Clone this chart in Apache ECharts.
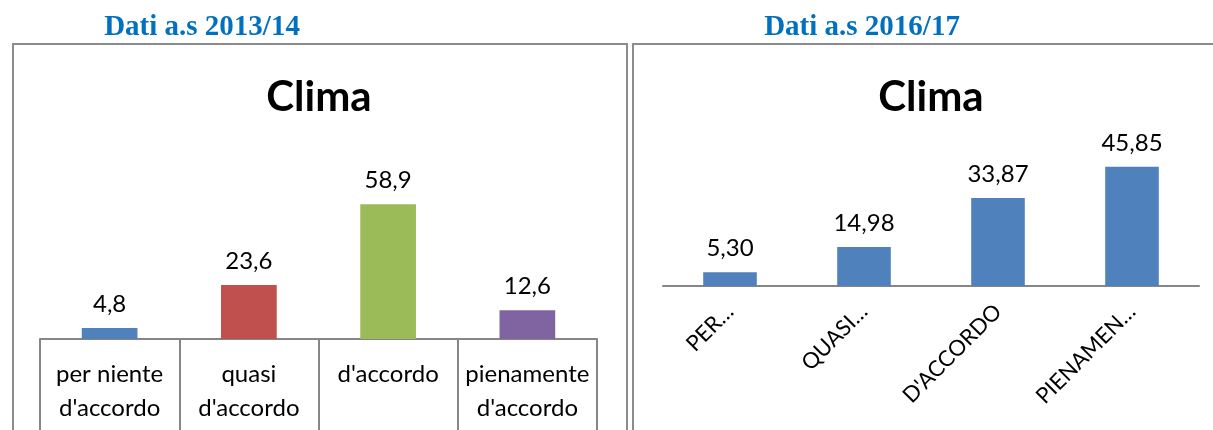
<!DOCTYPE html>
<html lang="it">
<head>
    <meta charset="UTF-8"/>
    <title>Clima</title>
    <script src="https://cdn.jsdelivr.net/npm/echarts@6/dist/echarts.min.js"></script>
    <style>
        html, body { margin: 0; padding: 0; background: #fff; }
    </style>
</head>
<body>
<div id="main" style="width: 1213px;height:430px;"></div>

<script type="text/javascript">
    // dati
    var categorie1 = ['per niente\nd\'accordo', 'quasi\nd\'accordo', 'd\'accordo', 'pienamente\nd\'accordo'];
    var valori1 = [4.8, 23.6, 58.9, 12.6];
    var colori1 = ['#4F81BD', '#C0504D', '#9BBB59', '#8064A2'];

    var categorie2 = ['PER…', 'QUASI…', 'D\'ACCORDO', 'PIENAMEN…'];
    var valori2 = [5.30, 14.98, 33.87, 45.85];

    var titolo1 = 'Dati a.s 2013/14';
    var titolo2 = 'Dati a.s 2016/17';
    var titoloGrafico = 'Clima';

    var myChart = echarts.init(document.getElementById('main'));

    var font = 'Lato, "Open Sans", sans-serif';

    function testo(t, x, y, f, colore) {
        return {
            type: 'text', x: x, y: y,
            style: {
                text: t, font: f, fill: colore,
                align: 'center', verticalAlign: 'middle',
                textAlign: 'center', textVerticalAlign: 'middle'
            }
        };
    }

    var option = {
        animation: false,
        graphic: [
            { type: 'rect', shape: { x: 13, y: 44, width: 614, height: 420 },
              style: { fill: 'none', stroke: '#8c8c8c', lineWidth: 2 } },
            { type: 'rect', shape: { x: 633, y: 44, width: 620, height: 420 },
              style: { fill: 'none', stroke: '#8c8c8c', lineWidth: 2 } },
            testo(titolo1, 202, 28, 'bold 29px "Liberation Serif", serif', '#0070C0'),
            testo(titolo2, 862, 28, 'bold 29px "Liberation Serif", serif', '#0070C0'),
            testo(titoloGrafico, 319, 97, 'bold 42px ' + font, '#000'),
            testo(titoloGrafico, 931, 97, 'bold 42px ' + font, '#000')
        ],
        grid: [
            { left: 40, right: 616, top: 179, bottom: 91 },
            { left: 663, right: 14, top: 156, bottom: 144 }
        ],
        xAxis: [
            {
                type: 'category', gridIndex: 0, data: categorie1,
                axisLine: { lineStyle: { color: '#868686', width: 2 } },
                axisTick: { show: true, length: 100, interval: 0, lineStyle: { color: '#868686', width: 2 } },
                axisLabel: { interval: 0, color: '#000', fontFamily: font, fontSize: 24, lineHeight: 34, margin: 18 }
            },
            {
                type: 'category', gridIndex: 1, data: categorie2,
                axisLine: { lineStyle: { color: '#868686', width: 2 } },
                axisTick: { show: false },
                axisLabel: { interval: 0, rotate: 45, color: '#000', fontFamily: font, fontSize: 22, margin: 22 }
            }
        ],
        yAxis: [
            { type: 'value', gridIndex: 0, min: 0, max: 70, show: false, splitLine: { show: false } },
            { type: 'value', gridIndex: 1, min: 0, max: 50, show: false, splitLine: { show: false } }
        ],
        series: [
            {
                type: 'bar', xAxisIndex: 0, yAxisIndex: 0, barWidth: '40%',
                data: valori1.map(function (v, i) {
                    return { value: v, itemStyle: { color: colori1[i] } };
                }),
                label: {
                    show: true, position: 'top', distance: 12, color: '#000',
                    fontFamily: font, fontSize: 24,
                    formatter: function (p) { return p.value.toFixed(1).replace('.', ','); }
                }
            },
            {
                type: 'bar', xAxisIndex: 1, yAxisIndex: 1, barWidth: '40%',
                itemStyle: { color: '#4F81BD' },
                data: valori2,
                label: {
                    show: true, position: 'top', distance: 12, color: '#000',
                    fontFamily: font, fontSize: 24,
                    formatter: function (p) { return p.value.toFixed(2).replace('.', ','); }
                }
            }
        ]
    };

    myChart.setOption(option);
</script>

</body>
</html>
